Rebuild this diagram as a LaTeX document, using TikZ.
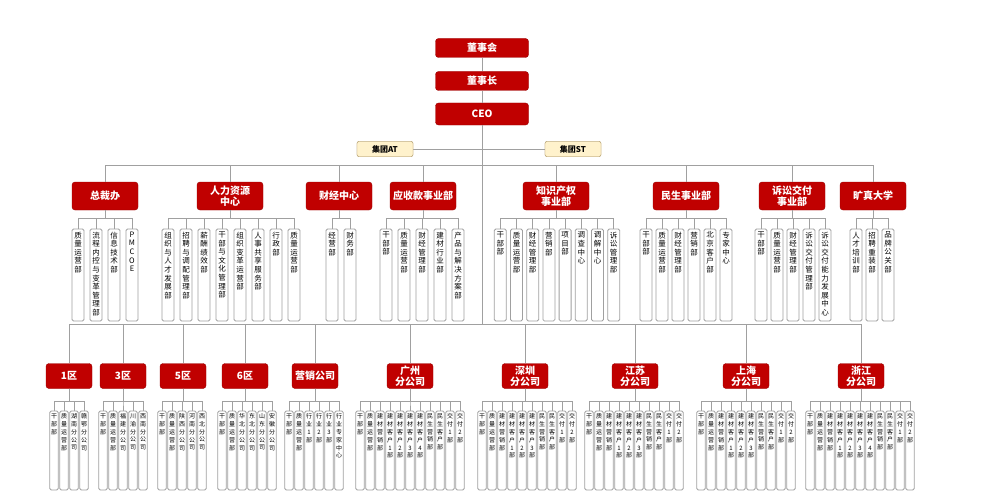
\documentclass[tikz,border=0pt]{standalone}
\usepackage{fontspec}
\setmainfont{Noto Sans CJK SC}
\definecolor{hred}{HTML}{C00000}
\definecolor{linegray}{HTML}{A0A0A0}
\definecolor{atfill}{HTML}{FFF2CC}
\definecolor{atdraw}{HTML}{B09A6A}
\def\vtext#1{\vtx#1\relax}
\def\vtx#1{\ifx#1\relax\else\hbox to 0pt{\hss#1\hss}\expandafter\vtx\fi}
\tikzset{
 headbox/.style={fill=hred,draw=hred!80!black,rounded corners=3pt,text=white,font=\bfseries\fontsize{10}{11}\selectfont,align=center,inner sep=1pt},
 atbox/.style={fill=atfill,draw=atdraw,rounded corners=2pt,font=\bfseries\fontsize{8}{9}\selectfont,minimum width=56pt,minimum height=15pt,inner sep=0pt},
 conn/.style={draw=linegray,line width=0.8pt},
 subbox/.style={draw=linegray,line width=0.8pt,rounded corners=1.5pt,fill=white,inner sep=0pt},
}
% #1 parent, #2 center x, #3 pitch, #4 n, #5 bus y, #6 top y, #7 height, #8 width, #9 list
\newcommand\kids[9]{%
 \foreach \t [count=\i] in {#9}{%
  \pgfmathsetmacro\xx{#2+(\i-(#4+1)/2)*#3}
  \node[subbox,minimum width=#8,minimum height=#7] (#1-\i) at (\xx,#6+#7/2) {};
  \node[anchor=north,inner sep=0pt] (#1-t\i) at ([yshift=-3pt]#1-\i.north) {\vbox{\expandafter\vtext\expandafter{\t}}};
  \draw[conn] (#1.south) |- (#1-\i.north |- 0,#5) -- (#1-\i.north);
 }}
\newcommand\topkids[5]{{\fontsize{7.5}{8.6}\selectfont\kids{#1}{#2}{#3}{#4}{218}{229}{92}{12}{#5}}}
\newcommand\botkids[5]{{\fontsize{6}{7.8}\selectfont\kids{#1}{#2}{#3}{#4}{401}{411}{79}{8.5}{#5}}}
\begin{document}
\begin{tikzpicture}[x=1pt,y=-1pt]
\useasboundingbox (0,0) rectangle (1000,500);
\fill[white] (0,0) rectangle (1000,500);
\node[headbox,minimum width=93pt,minimum height=19pt] (dsh) at (482,48) {董事会};
\node[headbox,minimum width=93pt,minimum height=19pt] (dsz) at (482,81) {董事长};
\node[headbox,minimum width=93pt,minimum height=22pt] (ceo) at (482,114) {CEO};
\draw[conn] (dsh) -- (dsz);
\draw[conn] (dsz) -- (ceo);
\coordinate (trunk) at (482,324);
\draw[conn] (ceo.south) -- (trunk);
\node[atbox] (at) at (385,149) {集团AT};
\node[atbox] (st) at (573,149) {集团ST};
\draw[conn] (at) -- (st);
\node[atbox] at (385,149) {集团AT};
\node[atbox] at (573,149) {集团ST};
% departments
\foreach \n/\x/\l in {d1/105/总裁办, d2/230/人力资源\\中心, d3/339/财经中心, d4/423/应收款事业部, d5/556/知识产权\\事业部, d6/686/民生事业部, d7/792/诉讼交付\\事业部, d8/873/旷真大学}{
 \node[headbox,minimum width=66pt,minimum height=28pt] (\n) at (\x,196) {\l};
 \draw[conn] (\n.north) -- (\n.north |- 0,165) -- (ceo.south |- 0,165);
}
\topkids{d1}{105}{18}{4}{质量运营部,流程内控与变革管理部,信息技术部,PMCOE}
\topkids{d2}{231}{18}{8}{组织与人才发展部,招聘与调配管理部,薪酬绩效部,干部与文化管理部,组织变革运营部,人事共享服务部,行政部,质量运营部}
\topkids{d3}{341}{18}{2}{经营部,财务部}
\topkids{d4}{422}{18}{5}{干部部,质量运营部,财经管理部,建材行业部,产品与解决方案部}
\topkids{d5}{557}{16.2}{8}{干部部,质量运营部,财经管理部,营销部,项目部,调查中心,调解中心,诉讼管理部}
\topkids{d6}{686}{16}{6}{干部部,质量运营部,财经管理部,营销部,北京客户部,专家中心}
\topkids{d7}{793}{16}{5}{干部部,质量运营部,财经管理部,诉讼交付管理部,诉讼交付能力发展中心}
\topkids{d8}{872}{16}{3}{人才培训部,招聘重装部,品牌公关部}
% bottom
\foreach \n/\x/\l in {b1/69/1区, b2/123/3区, b3/183/5区, b4/245/6区, b5/315/营销公司, b6/410/广州\\分公司, b7/525/深圳\\分公司, b8/635/江苏\\分公司, b9/746/上海\\分公司, b10/861/浙江\\分公司}{
 \node[headbox,minimum width=46pt,minimum height=25pt] (\n) at (\x,376) {\l};
 \draw[conn] (\n.north) -- (\n.north |- 0,324) -- (trunk);
}
\botkids{b1}{69}{10}{4}{干部部,质量运营部,湖南分公司,赣鄂分公司}
\botkids{b2}{123}{10}{5}{干部部,质量运营部,福建分公司,川渝分公司,西南分公司}
\botkids{b3}{182}{10}{5}{干部部,质量运营部,陕西分公司,河南分公司,西北分公司}
\botkids{b4}{247}{10}{6}{干部部,质量运营部,华北分公司,东北分公司,山东分公司,安徽分公司}
\botkids{b5}{314}{10}{6}{干部部,质量运营部,行业1部,行业2部,行业3部,行业专家中心}
\botkids{b6}{410}{10}{11}{干部部,质量运营部,建材营销部,建材客户1部,建材客户2部,建材客户3部,建材客户4部,民生营销部,民生客户部,交付1部,交付2部}
\botkids{b7}{527}{10}{10}{干部部,质量运营部,建材营销部,建材客户1部,建材客户2部,建材客户3部,民生营销部,民生客户部,交付1部,交付2部}
\botkids{b8}{634}{10}{10}{干部部,质量运营部,建材营销部,建材客户1部,建材客户2部,建材客户3部,民生营销部,民生客户部,交付1部,交付2部}
\botkids{b9}{746}{10}{10}{干部部,质量运营部,建材营销部,建材客户1部,建材客户2部,建材客户3部,民生营销部,民生客户部,交付1部,交付2部}
\botkids{b10}{860}{10}{11}{干部部,质量运营部,建材营销部,建材客户1部,建材客户2部,建材客户3部,建材客户4部,民生营销部,民生客户部,交付1部,交付2部}
\end{tikzpicture}
\end{document}
